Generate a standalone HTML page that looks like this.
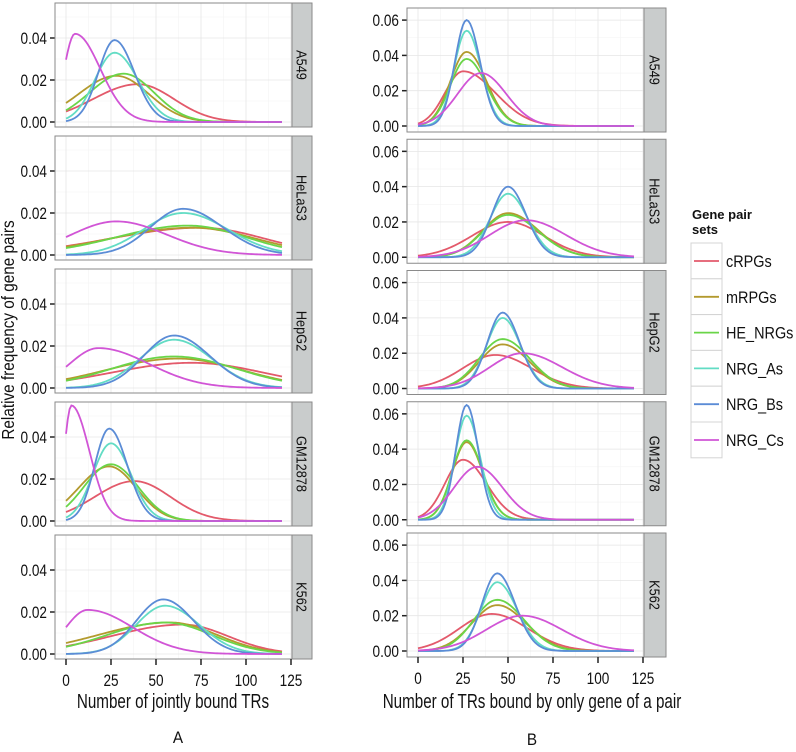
<!DOCTYPE html>
<html><head><meta charset="utf-8">
<style>
html,body{margin:0;padding:0;background:#fff;}
svg{display:block;font-family:"Liberation Sans",Arial,sans-serif;}
</style></head>
<body>
<svg id="chart" width="796" height="752" viewBox="0 0 796 752" xmlns="http://www.w3.org/2000/svg"></svg>
<script>
// ---- data ----
const cellLines = ["A549","HeLaS3","HepG2","GM12878","K562"];
const seriesNames = ["cRPGs","mRPGs","HE_NRGs","NRG_As","NRG_Bs","NRG_Cs"];
const seriesColors = ["#e35a6b","#b39a2e","#6ad548","#62dcc4","#5b8cd6","#d155d6"];
const xTicks = [0,25,50,75,100,125];
const yTicksA = [0,0.02,0.04];
const yTicksB = [0,0.02,0.04,0.06];
const yTickLabelsA = ["0.00","0.02","0.04"];
const yTickLabelsB = ["0.00","0.02","0.04","0.06"];
// each curve: [peak, mode, sdLeft, sdRight]
const curvesA_A549    = [[0.018,40,25,20],[0.022,28,21,18],[0.023,32,19,17],[0.033,27,11,13],[0.039,27,9,11],[0.042,5,6,14]];
const curvesA_HeLaS3  = [[0.013,75,50,35],[0.013,70,45,35],[0.014,68,40,32],[0.020,65,22,25],[0.022,65,18,22],[0.016,28,25,28]];
const curvesA_HepG2   = [[0.012,70,45,40],[0.014,62,40,36],[0.015,60,35,35],[0.023,60,19,21],[0.025,60,17,20],[0.019,18,16,28]];
const curvesA_GM12878 = [[0.019,38,22,20],[0.026,24,17,15],[0.027,25,15,15],[0.037,25,10,11],[0.044,24,8,10],[0.055,3,4,10]];
const curvesA_K562    = [[0.014,65,40,25],[0.015,58,40,26],[0.015,55,32,26],[0.023,55,16,19],[0.026,54,15,17],[0.021,12,12,25]];
const curvesB_A549    = [[0.031,25,10,18],[0.042,27,9,11],[0.038,27,9,11],[0.054,27,7,8],[0.060,27,6.5,7.5],[0.030,35,13,14]];
const curvesB_HeLaS3  = [[0.020,50,20,20],[0.025,50,14,17],[0.024,50,14,17],[0.036,50,10,11],[0.040,50,9,10],[0.021,60,20,22]];
const curvesB_HepG2   = [[0.019,43,18,20],[0.025,47,13,15],[0.028,47,13,15],[0.040,47,9,10],[0.043,47,8.5,9.5],[0.020,58,18,22]];
const curvesB_GM12878 = [[0.034,25,10,13],[0.044,27,8,9],[0.045,27,8,9],[0.059,27,6.5,7.5],[0.065,27,6,6.5],[0.030,33,13,14]];
const curvesB_K562    = [[0.021,41,18,20],[0.026,44,14,16],[0.029,44,13,15],[0.039,44,9,11],[0.044,44,8.5,10],[0.020,58,20,22]];
const panelsA = [curvesA_A549,curvesA_HeLaS3,curvesA_HepG2,curvesA_GM12878,curvesA_K562];
const panelsB = [curvesB_A549,curvesB_HeLaS3,curvesB_HepG2,curvesB_GM12878,curvesB_K562];

// ---- drawing ----
const NS="http://www.w3.org/2000/svg";
const svg=document.getElementById('chart');
function mk(tag,attrs,parent){const e=document.createElementNS(NS,tag);for(const k in attrs)e.setAttribute(k,attrs[k]);(parent||svg).appendChild(e);return e;}
function ctext(parent,s,x,y,size,sx,anchor,extra){
  const t=mk('text',Object.assign({x:0,y:0,'text-anchor':anchor,'font-size':size,fill:'#111',transform:`translate(${x} ${y}) scale(${sx} 1)`},extra||{}),parent);
  t.textContent=s;return t;
}
function dens(c,x){const sd=x<c[1]?c[2]:c[3];const z=(x-c[1])/sd;return c[0]*Math.exp(-0.5*z*z);}

function drawColumn(cfg){
  cfg.panels.forEach((curves,i)=>{
    const top=cfg.top0+cfg.step*i, h=124;
    const L=cfg.left, R=cfg.right;
    const xs=v=>cfg.x0+(cfg.x125-cfg.x0)*v/125;
    const ys=v=>top+cfg.zeroOff-v*cfg.yScale;
    const g=mk('g',{});
    
    
    mk('rect',{x:L,y:top,width:R-L,height:h,fill:'#fff'},g);
    for(let v=12.5;v<125;v+=25){mk('line',{x1:xs(v),x2:xs(v),y1:top,y2:top+h,stroke:'#f3f3f3','stroke-width':0.6},g);}
    for(let k=0;k<cfg.yTicks.length;k++){const v=cfg.yTicks[k]+cfg.yTicks[1]/2;const y=ys(v);if(y>top)mk('line',{x1:L,x2:R,y1:y,y2:y,stroke:'#f3f3f3','stroke-width':0.6},g);}
    xTicks.forEach(v=>{if(xs(v)<R)mk('line',{x1:xs(v),x2:xs(v),y1:top,y2:top+h,stroke:'#e6e6e6','stroke-width':0.8},g);});
    cfg.yTicks.forEach((v,k)=>{const y=ys(v);mk('line',{x1:L,x2:R,y1:y,y2:y,stroke:'#e6e6e6','stroke-width':0.8},g);
      mk('line',{x1:L-5,x2:L,y1:y,y2:y,stroke:'#222','stroke-width':1.5},g);
      const t=ctext(g,cfg.yLabels[k],L-8,y+6,17,0.8,'end');
      });
    curves.forEach((c,s)=>{
      let d='';
      for(let x=0;x<=120;x+=1){d+=(x?'L':'M')+xs(x).toFixed(2)+','+ys(dens(c,x)).toFixed(2);}
      const p=mk('path',{d:d,fill:'none',stroke:seriesColors[s],'stroke-width':1.8},g);
      
      
    });
    mk('rect',{x:L,y:top,width:R-L,height:h,fill:'none',stroke:'#8a8a8a','stroke-width':1},g);
    const st=mk('rect',{x:R,y:top,width:cfg.strip,height:h,fill:'#c9cccc',stroke:'#8a8a8a','stroke-width':1},g);
    
    const cx=R+cfg.strip/2, cy=top+h/2;
    const tt=mk('text',{x:0,y:0,'text-anchor':'middle','dominant-baseline':'central','font-size':15,fill:'#111',transform:`translate(${cx} ${cy}) rotate(90) scale(0.85 1)`},g);
    tt.textContent=cellLines[i];
    
    if(i===cfg.panels.length-1){
      xTicks.forEach(v=>{mk('line',{x1:xs(v),x2:xs(v),y1:top+h,y2:top+h+6,stroke:'#222','stroke-width':1.5},g);
        const t=ctext(g,String(v),xs(v),top+h+27,17,0.8,'middle');
        });
    }
  });
}
drawColumn({id:'a',panels:panelsA,top0:3,step:133,left:55,right:292,strip:20,x0:66,x125:291,zeroOff:119,yScale:2100,yTicks:yTicksA,yLabels:yTickLabelsA});
drawColumn({id:'b',panels:panelsB,top0:8,step:131.25,left:407,right:644,strip:22,x0:418,x125:643,zeroOff:118,yScale:1765,yTicks:yTicksB,yLabels:yTickLabelsB});

function txt(s,x,y,size,sx,name,rot){
  const t=mk('text',{x:0,y:0,'text-anchor':'middle','font-size':size,fill:'#111',transform:`translate(${x} ${y})${rot?' rotate(-90)':''} scale(${sx} 1)`});
  t.textContent=s;return t;}
txt('Number of jointly bound TRs',173,708,20,0.76,'x-axis-title-a');
txt('Number of TRs bound by only gene of a pair',532,708,20,0.76,'x-axis-title-b');
txt('A',178,743,17,0.9,'panel-label-a');
txt('B',532,745,17,0.9,'panel-label-b');
txt('Relative frequency of gene pairs',14,330,18,0.85,'y-axis-title',true);

const lg=mk('g',{});

const t1=mk('text',{x:692,y:219,'font-size':13,'font-weight':'bold',fill:'#111'},lg);t1.textContent='Gene pair';
const t2=mk('text',{x:692,y:234,'font-size':13,'font-weight':'bold',fill:'#111'},lg);t2.textContent='sets';

seriesNames.forEach((n,s)=>{
  const y=243+s*35.8;
  const e=mk('g',{},lg);
  
  
  mk('rect',{x:691,y:y,width:31,height:35.8,fill:'#fff',stroke:'#d4d4d4','stroke-width':1},e);
  mk('line',{x1:694,x2:719,y1:y+18,y2:y+18,stroke:seriesColors[s],'stroke-width':1.8},e);
  const t=ctext(e,n,726,y+24,17,0.85,'start');
});
</script>
</body></html>
